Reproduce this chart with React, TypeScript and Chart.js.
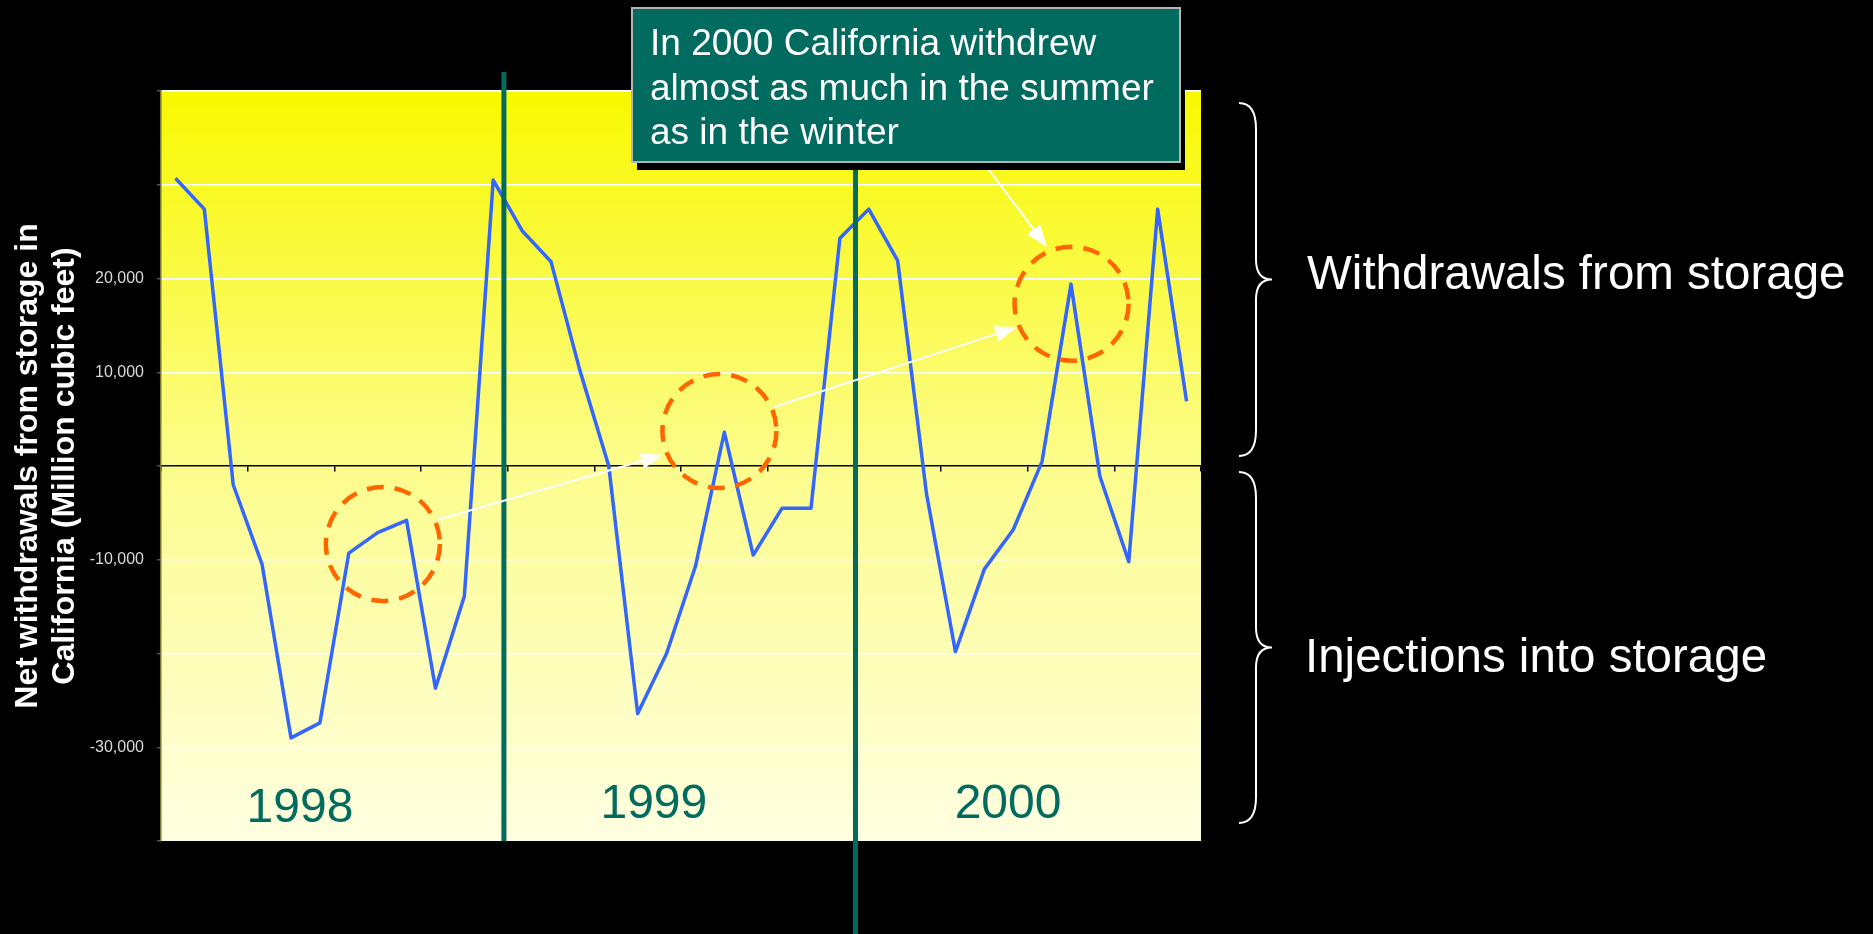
import React, { useEffect, useRef } from 'react';
import { Chart, registerables } from 'chart.js';

Chart.register(...registerables);

const FONT = '"Liberation Sans", Arial, Helvetica, sans-serif';

const MONTHS = ['Jan', 'Feb', 'Mar', 'Apr', 'May', 'Jun', 'Jul', 'Aug', 'Sep', 'Oct', 'Nov', 'Dec'];
const YEARS = ['1998', '1999', '2000'];

// Net monthly withdrawals from storage in California, million cubic feet
// (negative values are injections into storage)
const NET_1998 = [30700, 27400, -2000, -10500, -29000, -27400, -9300, -7100, -5800, -23700, -13900, 30500];
const NET_1999 = [25100, 21800, 10200, 0, -26400, -20000, -10700, 3600, -9500, -4500, -4500, 24300];
const NET_2000 = [27400, 21900, -3000, -19800, -11000, -6800, 500, 19400, -1100, -10200, 27400, 6900];

// Only these y ticks carry a printed value
const Y_LABELLED_TICKS = [20000, 10000, -10000, -30000];

const AXIS_TITLE = ['Net withdrawals from storage in', 'California (Million cubic feet)'];
const NOTE_LINES = ['In 2000 California withdrew', 'almost as much in the summer', 'as in the winter'];
const BRACE_LABELS = ['Withdrawals from storage', 'Injections into storage'];

const LABELS = YEARS.flatMap((y) => MONTHS.map((m) => `${m} ${y}`));
const NET = [...NET_1998, ...NET_1999, ...NET_2000];

const TEAL = '#006b5e';
const ORANGE = '#ff6600';

const backdrop = {
  id: 'backdrop',
  beforeDraw(chart: any) {
    const { ctx, chartArea: a } = chart;
    ctx.save();
    const g = ctx.createLinearGradient(0, a.top, 0, a.bottom);
    g.addColorStop(0, '#f8f800');
    g.addColorStop(0.5, '#fcfc8c');
    g.addColorStop(1, '#ffffe1');
    ctx.fillStyle = g;
    ctx.fillRect(a.left, a.top, a.right - a.left, a.bottom - a.top);
    ctx.restore();
  },
};

function drawArrow(ctx: CanvasRenderingContext2D, x1: number, y1: number, x2: number, y2: number) {
  const ang = Math.atan2(y2 - y1, x2 - x1);
  const len = 22;
  const half = 8;
  const bx = x2 - len * Math.cos(ang);
  const by = y2 - len * Math.sin(ang);
  ctx.beginPath();
  ctx.moveTo(x1, y1);
  ctx.lineTo(bx, by);
  ctx.stroke();
  ctx.beginPath();
  ctx.moveTo(x2, y2);
  ctx.lineTo(bx - half * Math.sin(ang), by + half * Math.cos(ang));
  ctx.lineTo(bx + half * Math.sin(ang), by - half * Math.cos(ang));
  ctx.closePath();
  ctx.fill();
}

function drawBrace(ctx: CanvasRenderingContext2D, x0: number, top: number, bottom: number) {
  const xm = x0 + 17;
  const xt = x0 + 33;
  const mid = (top + bottom) / 2;
  const r = 26;
  const rt = 20;
  ctx.beginPath();
  ctx.moveTo(x0, top);
  ctx.quadraticCurveTo(xm, top, xm, top + r);
  ctx.lineTo(xm, mid - rt);
  ctx.quadraticCurveTo(xm, mid, xt, mid);
  ctx.quadraticCurveTo(xm, mid, xm, mid + rt);
  ctx.lineTo(xm, bottom - r);
  ctx.quadraticCurveTo(xm, bottom, x0, bottom);
  ctx.stroke();
}

const overlay = {
  id: 'overlay',
  afterDraw(chart: any) {
    const { ctx, chartArea: a } = chart;
    const xs = chart.scales.x;
    const ys = chart.scales.y;
    ctx.save();

    // year captions inside the plot
    ctx.fillStyle = TEAL;
    ctx.font = `48px ${FONT}`;
    ctx.textAlign = 'center';
    ctx.textBaseline = 'alphabetic';
    const yearAt = [4.31, 16.56, 28.82];
    const yearBase = [-37970, -37550, -37550];
    YEARS.forEach((y, i) => {
      ctx.fillText(y, xs.getPixelForValue(yearAt[i]), ys.getPixelForValue(yearBase[i]));
    });

    // year dividers
    ctx.strokeStyle = TEAL;
    ctx.lineWidth = 5;
    const d1 = xs.getPixelForValue(11.37);
    const d2 = xs.getPixelForValue(23.54);
    ctx.beginPath();
    ctx.moveTo(d1, 72);
    ctx.lineTo(d1, a.bottom);
    ctx.moveTo(d2, 150);
    ctx.lineTo(d2, chart.height);
    ctx.stroke();

    // highlighted summer peaks
    ctx.strokeStyle = ORANGE;
    ctx.lineWidth = 4.5;
    ctx.setLineDash([17, 11]);
    const rings = [
      [7.18, -8320],
      [18.83, 3730],
      [31.02, 17310],
    ];
    rings.forEach(([i, v]) => {
      ctx.beginPath();
      ctx.arc(xs.getPixelForValue(i), ys.getPixelForValue(v), 57, 0, Math.PI * 2);
      ctx.stroke();
    });
    ctx.setLineDash([]);

    // arrows
    ctx.strokeStyle = '#ffffff';
    ctx.fillStyle = '#ffffff';
    ctx.lineWidth = 2;
    drawArrow(ctx, 437, 520, 663, 455);
    drawArrow(ctx, 774, 407, 1017, 327);
    drawArrow(ctx, 980, 158, 1047, 247);

    // note box with shadow
    const bx = 632;
    const by = 8;
    const bw = 548;
    const bh = 154;
    ctx.fillStyle = '#000000';
    ctx.fillRect(bx + 5, by + 8, bw, bh);
    ctx.fillStyle = TEAL;
    ctx.fillRect(bx, by, bw, bh);
    ctx.strokeStyle = '#b4b4b4';
    ctx.lineWidth = 2;
    ctx.strokeRect(bx, by, bw, bh);
    ctx.fillStyle = '#ffffff';
    ctx.font = `37px ${FONT}`;
    ctx.textAlign = 'left';
    const noteBase = [55, 99.5, 144];
    NOTE_LINES.forEach((t, i) => ctx.fillText(t, 650, noteBase[i]));

    // braces and their captions
    ctx.strokeStyle = '#ffffff';
    ctx.lineWidth = 2;
    drawBrace(ctx, 1239, 103, 456);
    drawBrace(ctx, 1239, 472, 823);
    ctx.font = `47.5px ${FONT}`;
    ctx.fillText(BRACE_LABELS[0], 1307, 289);
    ctx.fillText(BRACE_LABELS[1], 1305, 672);

    ctx.restore();
  },
};

export default function App() {
  const ref = useRef<HTMLCanvasElement>(null);

  useEffect(() => {
    document.body.style.margin = '0';
    document.body.style.background = '#000';
    const chart = new Chart(ref.current as HTMLCanvasElement, {
      type: 'line',
      data: {
        labels: LABELS,
        datasets: [
          {
            label: 'Net withdrawals',
            data: NET,
            borderColor: '#3366ff',
            borderWidth: 3.5,
            borderJoinStyle: 'round',
            pointRadius: 0,
            tension: 0,
            fill: false,
          },
        ],
      },
      options: {
        responsive: false,
        animation: false,
        devicePixelRatio: 1,
        layout: { padding: { left: 0, top: 91, right: 672, bottom: 93 } },
        plugins: {
          legend: { display: false },
          title: { display: false },
          tooltip: { enabled: false },
        },
        scales: {
          x: {
            type: 'category',
            offset: true,
            position: { y: 0 },
            ticks: { display: false },
            grid: {
              offset: true,
              drawOnChartArea: false,
              drawTicks: true,
              tickLength: 5,
              lineWidth: 1.5,
              color: (c: any) => (c.index === undefined || c.index % 3 === 0 ? '#000000' : 'rgba(0,0,0,0)'),
            },
            border: { display: true, color: '#000000', width: 1.5 },
          },
          y: {
            min: -40000,
            max: 40000,
            afterFit: (s: any) => {
              s.width = 161;
            },
            ticks: {
              stepSize: 10000,
              autoSkip: false,
              padding: 13,
              color: '#dadada',
              font: { family: FONT, size: 16 },
              callback: (v: any) => (Y_LABELLED_TICKS.includes(Number(v)) ? Number(v).toLocaleString('en-US') : ''),
            },
            grid: {
              lineWidth: 1.5,
              tickLength: 4,
              tickColor: '#5a5a28',
              color: (c: any) => {
                const v = c.tick ? c.tick.value : null;
                return v === 0 || v === -40000 ? 'rgba(0,0,0,0)' : '#ffffff';
              },
            },
            border: { display: true, color: '#77772e', width: 1.5 },
            title: {
              display: true,
              text: AXIS_TITLE,
              color: '#ffffff',
              font: { family: FONT, size: 32, weight: 'bold', lineHeight: 1.15 },
              padding: { top: 10, bottom: 0 },
            },
          },
        },
      },
      plugins: [backdrop, overlay],
    } as any);
    return () => chart.destroy();
  }, []);

  return (
    <div style={{ width: 1873, height: 934, background: '#000' }}>
      <canvas ref={ref} width={1873} height={934} style={{ display: 'block', width: 1873, height: 934 }} />
    </div>
  );
}
